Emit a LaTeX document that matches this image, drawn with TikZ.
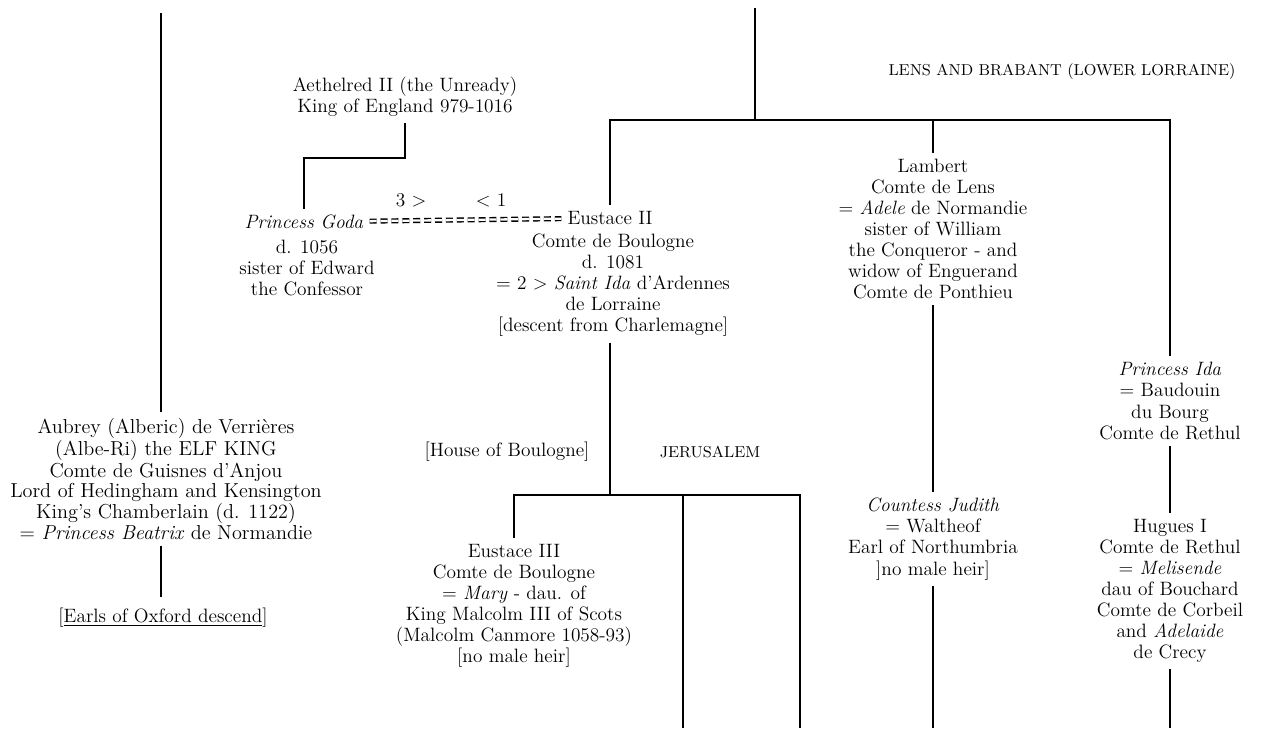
\documentclass[tikz,border=0pt]{standalone}
\usepackage{tikz}
\usetikzlibrary{calc}

\begin{document}
\begin{tikzpicture}[x=0.02cm, y=-0.02cm, line width=1.1pt,
  person/.style={align=center, inner sep=3pt, font=\fontsize{11}{12}\selectfont},
  house/.style={inner sep=2pt, font=\fontsize{9}{10}\selectfont},
  wed/.style={double, double distance=1.3pt, line width=0.8pt, dash pattern=on 4pt off 2.2pt}]
	\useasboundingbox (0,0) rectangle (1267,728);
	% lines running in from above
	\coordinate (Ltop) at (161,13);
	\coordinate (Mtop) at (755,8);
	\coordinate (Bar) at (755,120);
	% left branch
	\node[person, font=\fontsize{11.5}{10.2}\selectfont] (Aubrey) at (166,479) {Aubrey (Alberic) de Verrières\\(Albe-Ri) the ELF KING\\Comte de Guisnes d'Anjou\\Lord of Hedingham and Kensington\\King's Chamberlain (d. 1122)\\= \textit{Princess Beatrix} de Normandie};
	\node[person, inner sep=6pt] (Earls) at (163,618) {[\underline{Earls of Oxford descend}]};
	% England
	\node[person] (Aeth) at (405,97) {Aethelred II (the Unready)\\King of England 979-1016};
	\coordinate (Corner) at (304,158);
	\node[person] (Goda) at (304,222) {\textit{Princess Goda}};
	\node[person] (GodaI) at (307,268) {d. 1056\\sister of Edward\\the Confessor};
	\node[person] (M3) at (411,200) {3 >};
	\node[person] (M1) at (491,200) {< 1};
	% Boulogne
	\node[person] (Eus) at (610,218) {Eustace II};
	\node[person] (EusI) at (613,285) {Comte de Boulogne\\d. 1081\\= 2 > \textit{Saint Ida} d'Ardennes\\de Lorraine\\{[}descent from Charlemagne]};
	\node[person] (HoB) at (507,452) {[House of Boulogne]};
	\node[house] (Jer) at (710,452) {JERUSALEM};
	\coordinate (Low) at (610,495);
	\coordinate (J1top) at (683,495);
	\coordinate (J1) at (683,728);
	\coordinate (J2) at (800,728);
	\node[person] (Eus3) at (514,606) {Eustace III\\Comte de Boulogne\\= \textit{Mary} - dau. of\\King Malcolm III of Scots\\(Malcolm Canmore 1058-93)\\{[}no male heir]};
	% Lens and Brabant
	\node[house] (Lens) at (1062,72) {LENS AND BRABANT (LOWER LORRAINE)};
	\node[person] (Lambert) at (933,229) {Lambert\\Comte de Lens\\= \textit{Adele} de Normandie\\sister of William\\the Conqueror - and\\widow of Enguerand\\Comte de Ponthieu};
	\node[person] (Judith) at (933,539) {\textit{Countess Judith}\\= Waltheof\\Earl of Northumbria\\{]}no male heir]};
	\coordinate (JudEnd) at (933,728);
	\node[person] (Ida) at (1170,401) {\textit{Princess Ida}\\= Baudouin\\du Bourg\\Comte de Rethul};
	\node[person] (Hugues) at (1170,591) {Hugues I\\Comte de Rethul\\= \textit{Melisende}\\dau of Bouchard\\Comte de Corbeil\\and \textit{Adelaide}\\de Crecy};
	\coordinate (HugEnd) at (1170,728);
	% descent lines
	\draw (Ltop) -- (Ltop |- Aubrey.north);
	\draw (Ltop |- Aubrey.south) -- (Ltop |- Earls.north);
	\draw (Aeth) |- (Corner) -- (Goda);
	\draw[wed] (Goda) -- (Eus);
	\draw (Mtop) -- (Bar);
	\draw (Eus) |- (Bar) -| (Ida);
	\draw (Lambert) -- (Lambert |- Bar);
	\draw (Lambert) -- (Judith);
	\draw (Judith) -- (JudEnd);
	\draw (Ida) -- (Hugues);
	\draw (Hugues) -- (HugEnd);
	\draw (EusI.south -| Low) -- (Low);
	\draw (Eus3) |- (Low) -| (J2);
	\draw (J1top) -- (J1);
\end{tikzpicture}
\end{document}
